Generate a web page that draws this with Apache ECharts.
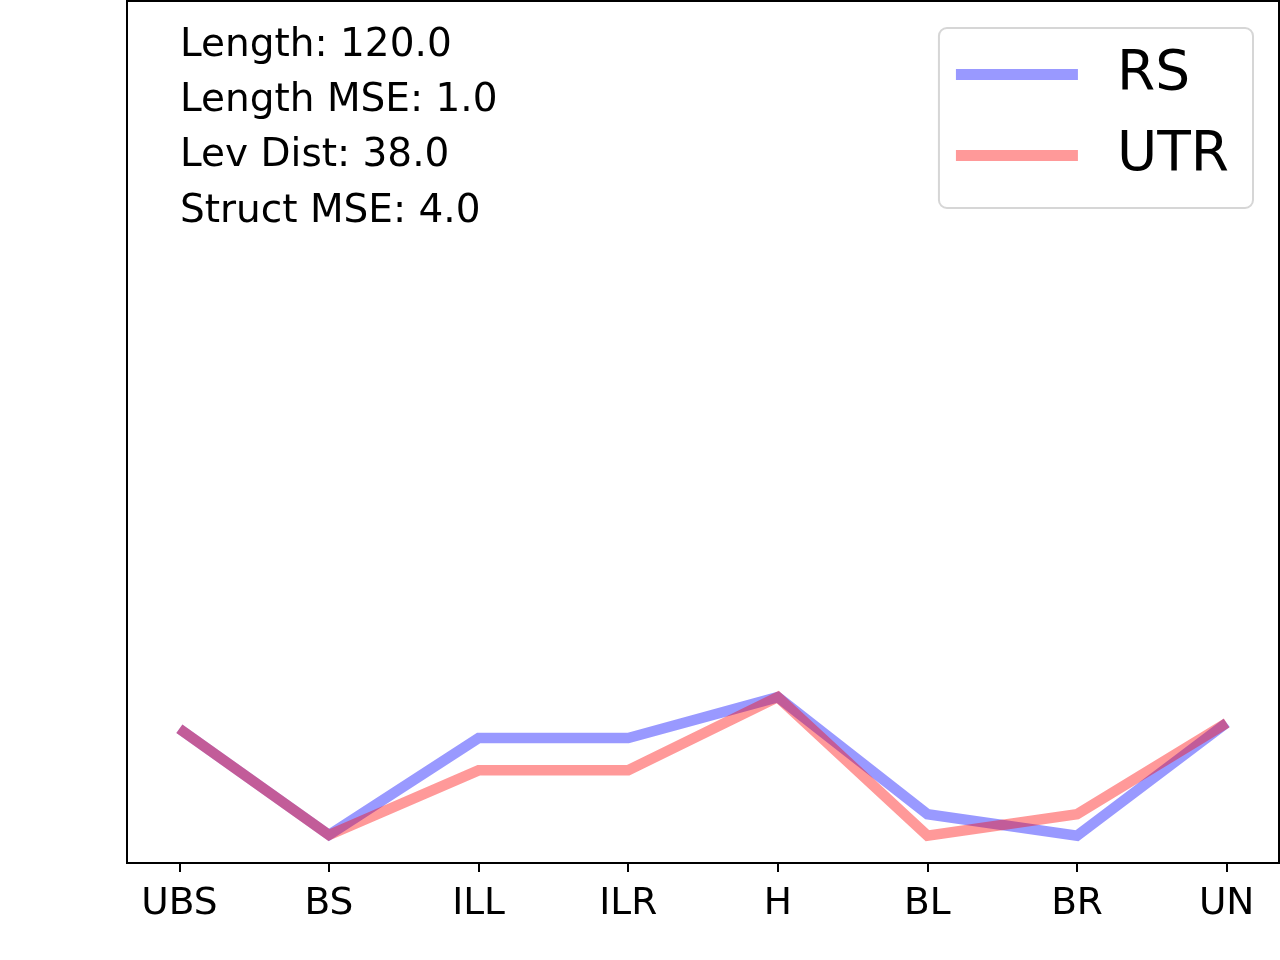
<!DOCTYPE html>
<html>
<head>
<meta charset="utf-8">
<script src="https://cdn.jsdelivr.net/npm/echarts@6/dist/echarts.min.js"></script>
<style>
html,body{margin:0;padding:0;background:#fff;}
#chart{width:1280px;height:960px;}
</style>
</head>
<body>
<div id="chart"></div>
<script>
const categories = ['UBS', 'BS', 'ILL', 'ILR', 'H', 'BL', 'BR', 'UN'];
const rsValues  = [18.7, 3.9, 17.4, 17.4, 23.1, 6.8, 3.8, 19.5];
const utrValues = [18.7, 3.9, 12.9, 12.9, 23.1, 3.8, 6.8, 19.5];
const seriesNames = ['RS', 'UTR'];
const annotations = ['Length: 120.0', 'Length MSE: 1.0', 'Lev Dist: 38.0', 'Struct MSE: 4.0'];
const tickValues = categories.map((c, i) => i);

const FONT = 'DejaVu Sans';
const chart = echarts.init(document.getElementById('chart'), null, {renderer: 'canvas'});

const toPairs = arr => arr.map((v, i) => [i, v]);

chart.setOption({
  animation: false,
  backgroundColor: '#ffffff',
  grid: {
    left: 127, right: 1, top: 1, bottom: 97,
    show: true, borderColor: '#000', borderWidth: 2, backgroundColor: 'transparent'
  },
  xAxis: {
    type: 'value', min: -0.35, max: 7.35,
    splitLine: {show: false},
    axisLine: {show: true, onZero: false, lineStyle: {color: '#000', width: 2}},
    axisTick: {show: true, customValues: tickValues, length: 9, lineStyle: {color: '#000', width: 2}},
    axisLabel: {
      show: true, customValues: tickValues, margin: 22,
      fontFamily: FONT, fontSize: 37.5, color: '#000',
      formatter: v => categories[Math.round(v)] || ''
    }
  },
  yAxis: {
    type: 'value', min: 0, max: 120,
    splitLine: {show: false},
    axisLine: {show: false},
    axisTick: {show: false},
    axisLabel: {show: false}
  },
  legend: {
    data: seriesNames,
    orient: 'vertical',
    right: 27, top: 28,
    icon: 'rect',
    itemWidth: 122, itemHeight: 11,
    itemGap: 26,
    padding: [19, 24, 25, 17],
    backgroundColor: '#fff',
    borderColor: '#d6d6d6', borderWidth: 2, borderRadius: 8,
    textStyle: {fontFamily: FONT, fontSize: 55, color: '#000', padding: [0, 0, 0, 34]}
  },
  graphic: annotations.map((t, i) => ({
    type: 'text',
    left: 180,
    top: 26 + i * 55.3,
    style: {text: t, fontFamily: FONT, fontSize: 39, fill: '#000'}
  })),
  series: [
    {
      name: seriesNames[0], type: 'line', data: toPairs(rsValues),
      showSymbol: false, symbol: 'none',
      color: 'rgba(0,0,255,0.4)',
      lineStyle: {width: 10.5, color: 'rgba(0,0,255,0.4)', join: 'miter', cap: 'butt'}
    },
    {
      name: seriesNames[1], type: 'line', data: toPairs(utrValues),
      showSymbol: false, symbol: 'none',
      color: 'rgba(255,0,0,0.4)',
      lineStyle: {width: 10.5, color: 'rgba(255,0,0,0.4)', join: 'miter', cap: 'butt'}
    }
  ]
});
</script>
</body>
</html>
